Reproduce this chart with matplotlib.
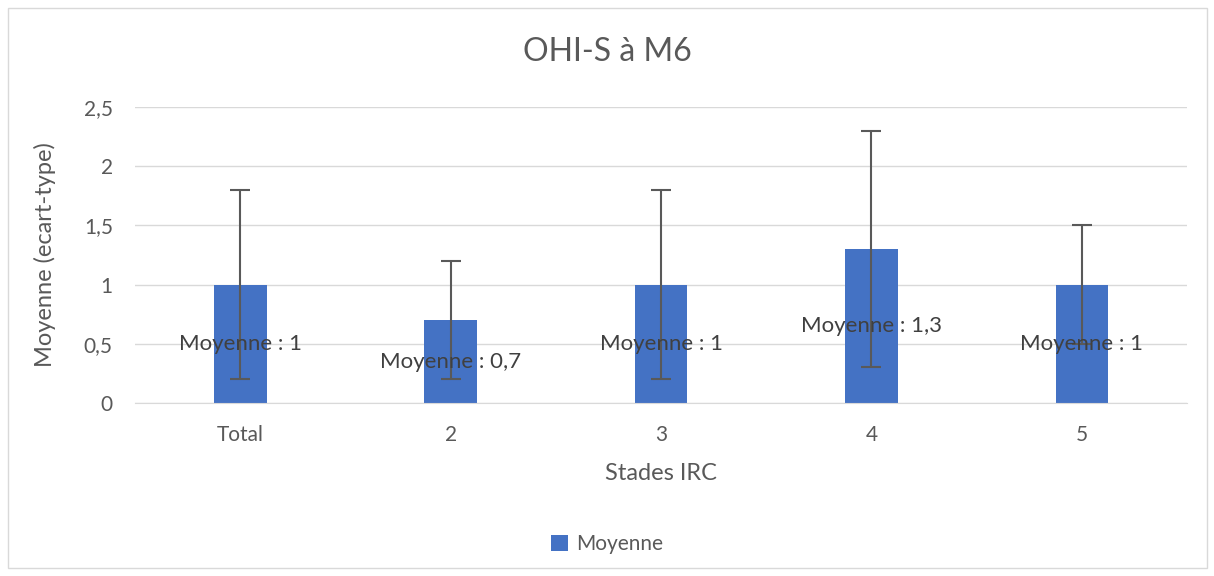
import matplotlib
matplotlib.use("Agg")
import matplotlib.pyplot as plt
from matplotlib.patches import Rectangle

categories = ["Total", "2", "3", "4", "5"]
moyenne = [1.0, 0.7, 1.0, 1.3, 1.0]
ecart_type = [0.8, 0.5, 0.8, 1.0, 0.5]
labels = ["Moyenne : 1", "Moyenne : 0,7", "Moyenne : 1", "Moyenne : 1,3", "Moyenne : 1"]
yticks = [0, 0.5, 1, 1.5, 2, 2.5]
ytick_labels = ["0", "0,5", "1", "1,5", "2", "2,5"]

plt.rcParams['font.family'] = ['Lato', 'DejaVu Sans']
txt = "#595959"
fig = plt.figure(figsize=(12.14, 5.76), dpi=100)
fig.patches.append(Rectangle((8/1214, 8/576), 1199/1214, 560/576, transform=fig.transFigure,
                             fill=False, edgecolor="#d9d9d9", linewidth=1))
ax = fig.add_axes([135/1214, 1 - 403/576, 1052/1214, 296/576])
x = list(range(len(categories)))
ax.bar(x, moyenne, width=0.25, color="#4472c4", zorder=2, label="Moyenne")
ax.errorbar(x, moyenne, yerr=ecart_type, fmt="none", ecolor="#595959", elinewidth=1.5,
            capsize=7, capthick=1.5, zorder=3)
for xi, v, lab in zip(x, moyenne, labels):
    ax.text(xi, v / 2, lab, ha="center", va="center", fontsize=16, color="#404040", zorder=4)
ax.set_xlim(-0.5, 4.5)
ax.set_ylim(0, 2.5)
ax.set_yticks(yticks)
ax.set_yticklabels(ytick_labels)
ax.set_xticks(x)
ax.set_xticklabels(categories)
ax.tick_params(axis="both", length=0, labelsize=15, colors=txt)
ax.tick_params(axis="x", pad=16)
ax.tick_params(axis="y", pad=16)
ax.grid(axis="y", color="#d9d9d9", linewidth=1, zorder=0)
ax.set_axisbelow(True)
for s in ["top", "right", "left"]:
    ax.spines[s].set_visible(False)
ax.spines["bottom"].set_color("#d9d9d9")
ax.set_xlabel("Stades IRC", fontsize=17, color=txt, labelpad=13)
ax.set_ylabel("Moyenne (ecart-type)", fontsize=17, color=txt, labelpad=20)
fig.text(0.5, 1 - 52/576, "OHI-S à M6", ha="center", va="center", fontsize=23, color=txt)
fig.legend(loc="center", bbox_to_anchor=(0.5, 1 - 544/576), frameon=False, fontsize=15,
           labelcolor=txt, handlelength=0.8, handleheight=0.8, handletextpad=0.4)
fig.savefig("out.png", dpi=100)
